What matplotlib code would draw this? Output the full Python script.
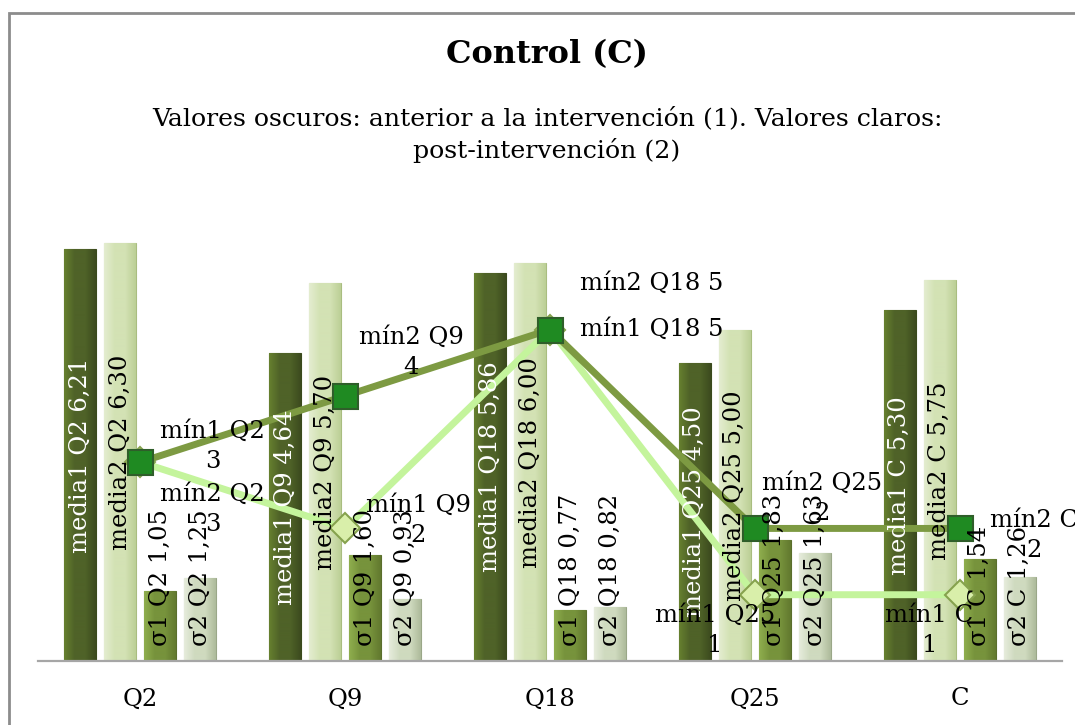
import numpy as np
import matplotlib
matplotlib.use("Agg")
import matplotlib.pyplot as plt
from matplotlib.patches import Rectangle
from matplotlib.colors import LinearSegmentedColormap

# data
categories = ["Q2", "Q9", "Q18", "Q25", "C"]
media1 = [6.21, 4.64, 5.86, 4.50, 5.30]
media2 = [6.30, 5.70, 6.00, 5.00, 5.75]
sigma1 = [1.05, 1.60, 0.77, 1.83, 1.54]
sigma2 = [1.25, 0.93, 0.82, 1.63, 1.26]
min1 = [3, 2, 5, 1, 1]
min2 = [3, 4, 5, 2, 2]

title = "Control (C)"
subtitle = "Valores oscuros: anterior a la intervención (1). Valores claros:\npost-intervención (2)"

FONT = "DejaVu Serif"
plt.rcParams["font.family"] = FONT
FS = 17.5

fig = plt.figure(figsize=(10.75, 7.25), dpi=100)
ax = fig.add_axes([38/1075, 64/725, 1024/1075, 464/725])

x = np.arange(len(categories))
bw = 0.156
step = 0.1955

def fmt(v):
    return ("%.2f" % v).replace(".", ",")

# (name, values, light, base, dark, edge, label colour)
series = [
    ("media1", media1, "#66802f", "#4f6228", "#3c4b1e", "#3a4a1c", "white"),
    ("media2", media2, "#e4edd0", "#d3e2b4", "#bccf96", "#a9bd80", "black"),
    ("σ1", sigma1, "#8fae4e", "#77933c", "#62792f", "#5a6e2c", "black"),
    ("σ2", sigma2, "#e6ecdc", "#cfdabf", "#aebb9b", "#9aa788", "black"),
]

for k, (name, vals, c_l, c_b, c_d, c_e, tcol) in enumerate(series):
    cmap = LinearSegmentedColormap.from_list(name, [c_l, c_b, c_b, c_d])
    xs = x + (k - 1.5) * step
    bars = ax.bar(xs, vals, width=bw, color=c_b, edgecolor=c_e, linewidth=0.8, zorder=2)
    for b, cat, v in zip(bars, categories, vals):
        x0 = b.get_x()
        im = ax.imshow(np.linspace(0, 1, 64).reshape(1, -1), cmap=cmap, aspect="auto",
                       extent=[x0, x0 + bw, 0, v], zorder=2, interpolation="bilinear")
        im.set_clip_path(b)
        xc = x0 + bw / 2
        txt = "%s %s %s" % (name, cat, fmt(v))
        if name.startswith("media"):
            ax.text(xc, v / 2, txt, rotation=90, ha="center", va="center",
                    fontsize=FS, color=tcol, zorder=6)
        else:
            ax.text(xc, 0.22, txt, rotation=90, ha="center", va="bottom",
                    fontsize=FS, color=tcol, zorder=6)

# lines
ax.plot(x, min1, color="#c4f49c", lw=5, zorder=4, solid_capstyle="round",
        marker="D", markersize=15, markerfacecolor="#d9efaa", markeredgecolor="#86a24e",
        markeredgewidth=1.5)
ax.plot(x, min2, color="#7d9a42", lw=5, zorder=5,
        marker="s", markersize=18, markerfacecolor="#1f8a22", markeredgecolor="#2f5e2a",
        markeredgewidth=1.5)

# line labels: offsets in pixels from the marker
off1 = [(72, 16), (73, 8), (102, 0), (-40, -36), (-30, -36)]
off2 = [(72, -47), (66, 43), (102, 46), (67, 30), (74, -7)]
for i, cat in enumerate(categories):
    if cat == "Q18":
        t1 = "mín1 %s %d" % (cat, min1[i])
        t2 = "mín2 %s %d" % (cat, min2[i])
    else:
        t1 = "mín1 %s\n%d" % (cat, min1[i])
        t2 = "mín2 %s\n%d" % (cat, min2[i])
    ax.annotate(t1, (x[i], min1[i]), xytext=off1[i], textcoords="offset pixels",
                ha="center", va="center", fontsize=FS, linespacing=1.4, zorder=7,
                annotation_clip=False)
    ax.annotate(t2, (x[i], min2[i]), xytext=off2[i], textcoords="offset pixels",
                ha="center", va="center", fontsize=FS, linespacing=1.4, zorder=7,
                annotation_clip=False)

ax.set_xlim(-0.5, len(categories) - 0.5)
ax.set_ylim(0, 7)
ax.set_xticks(x)
ax.set_xticklabels(categories, fontsize=FS)
ax.tick_params(axis="x", length=0, pad=19)
ax.set_yticks([])
for s in ["top", "right", "left"]:
    ax.spines[s].set_visible(False)
ax.spines["bottom"].set_color("#a6a6a6")
ax.spines["bottom"].set_linewidth(1.6)
ax.spines["bottom"].set_zorder(8)

fig.text(547/1075, 1 - 55/725, title, ha="center", va="center",
         fontsize=23, fontweight="bold")
fig.text(547/1075, 1 - 135/725, subtitle, ha="center", va="center",
         fontsize=18.2, linespacing=1.4)

# chart-area frame
fig.patches.append(Rectangle((9/1075, -0.1), 1.2, (725 - 13)/725 + 0.1,
                             transform=fig.transFigure, fill=False,
                             edgecolor="#8c8c8c", linewidth=2))

fig.savefig("out.png", dpi=100)
